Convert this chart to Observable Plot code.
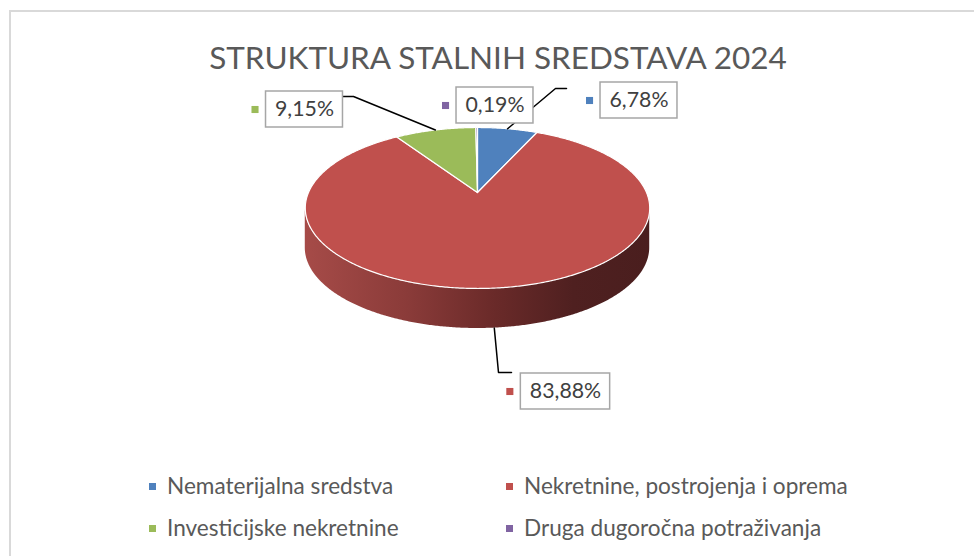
<!DOCTYPE html>
<html>
<head>
<meta charset="utf-8">
<script src="https://cdn.jsdelivr.net/npm/d3@7"></script>
<script src="https://cdn.jsdelivr.net/npm/@observablehq/plot@0.6"></script>
<style>
  html, body { margin: 0; padding: 0; background: #fff; }
  #wrap { position: relative; width: 974px; height: 556px; overflow: hidden; background: #fff; }
  #frame { position: absolute; left: 9px; top: 10px; width: 1000px; height: 600px; border: 2px solid #d9d9d9; box-sizing: border-box; }
  #title { position: absolute; left: 0; width: 996px; text-align: center; color: #595959; line-height: 1; white-space: nowrap; }
  #plot { position: absolute; left: 0; top: 80px; }
  .leg { position: absolute; color: #595959; line-height: 1; white-space: nowrap; }
  .key { position: absolute; width: 7px; height: 7px; }
</style>
</head>
<body>
<div id="wrap">
  <div id="frame"></div>
  <div id="title"></div>
  <div id="plot"></div>
</div>
<script>
// ---------- data ----------
const title = "STRUKTURA STALNIH SREDSTAVA 2024";
const categories = ["Nematerijalna sredstva", "Nekretnine, postrojenja i oprema", "Investicijske nekretnine", "Druga dugoročna potraživanja"];
const shares = [6.78, 83.88, 9.15, 0.19];
const valueLabels = ["6,78%", "83,88%", "9,15%", "0,19%"];

// ---------- styles / layout ----------
const colors = ["#4F81BD", "#C0504D", "#9BBB59", "#8064A2"];
const FONT = "Lato, 'Open Sans', sans-serif";
const W = 974, H = 360, TOP = 80;
const cx = 477, cy = 192, rx = 169, ry = 77.5, persp = 0.1925, depth = 40;
// label boxes (centre) and leader-line bends, page coordinates
const labelLayout = [
  {bx: 638.5, by: 100, leader: [[555, 88], [566, 88]]},
  {bx: 565, by: 391, leader: [[498, 372], [511, 372]], bottom: true},
  {bx: 304, by: 109, leader: [[353, 96], [342, 96]]},
  {bx: 494.5, by: 105, leader: null}
];
const legendLayout = [
  {x: 152, y: 486}, {x: 509, y: 486}, {x: 152, y: 528}, {x: 509, y: 528}
];

// ---------- helpers ----------
const ctx = document.createElement("canvas").getContext("2d");
function fit(text, target, weight = "normal") {
  ctx.font = `${weight} 100px ${FONT}`;
  return 100 * target / ctx.measureText(text).width;
}
function textW(text, size) {
  ctx.font = `normal ${size}px ${FONT}`;
  return ctx.measureText(text).width;
}
function proj(t) {
  const u = Math.sin(t), v = -Math.cos(t), s = 1 / (1 - persp * v);
  return [cx + rx * u * s, cy + ry * v * s];
}

// ---------- title ----------
const titleEl = document.getElementById("title");
const tSize = fit(title, 580);
titleEl.textContent = title;
titleEl.style.fontFamily = FONT;
titleEl.style.fontSize = tSize + "px";
titleEl.style.top = (70 - 0.887 * tSize) + "px";

// ---------- pie geometry from data ----------
const pie = d3.pie().sort(null).value(d => d)(shares);
const slices = pie.map((p, i) => ({cat: categories[i], a0: p.startAngle, a1: p.endAngle, mid: (p.startAngle + p.endAngle) / 2, label: valueLabels[i], i}));

const slicePts = slices.flatMap(s => {
  const n = Math.max(2, Math.ceil((s.a1 - s.a0) / (Math.PI / 360)));
  const pts = [{cat: s.cat, x: cx, y: cy}];
  for (let j = 0; j <= n; j++) {
    const [x, y] = proj(s.a0 + (s.a1 - s.a0) * j / n);
    pts.push({cat: s.cat, x, y});
  }
  pts.push({cat: s.cat, x: cx, y: cy});
  return pts;
});

// front side of the red slice (the visible wall)
const tR = Math.acos(-persp), tL = 2 * Math.PI - tR;
const sidePts = d3.range(0, 361).map(j => {
  const [x, y] = proj(tR + (tL - tR) * j / 360);
  return {x, y1: y, y2: y + depth};
});

// labels
const lblSize = fit("9,15%", 59);
const labelData = slices.map((s, i) => {
  const L = labelLayout[i];
  const w = textW(s.label, lblSize) + 18, h = 36;
  return {cat: s.cat, label: s.label, bx: L.bx, by: L.by, x1: L.bx - w / 2, x2: L.bx + w / 2, y1: L.by - h / 2, y2: L.by + h / 2, kx: L.bx - w / 2 - 11, ky: L.by};
});
const leaderPts = slices.flatMap((s, i) => {
  const L = labelLayout[i];
  if (!L.leader) return [];
  let [x, y] = proj(s.mid);
  if (L.bottom) y += depth;
  return [{cat: s.cat, x, y}, ...L.leader.map(([lx, ly]) => ({cat: s.cat, x: lx, y: ly}))];
});

const chart = Plot.plot({
  width: W, height: H,
  margin: 0,
  x: {domain: [0, W], range: [0, W], axis: null},
  y: {domain: [TOP, TOP + H], range: [0, H], axis: null},
  color: {domain: categories, range: colors},
  style: {background: "transparent", overflow: "visible"},
  marks: [
    Plot.areaY(sidePts, {x: "x", y1: "y1", y2: "y2", fill: "url(#sideGrad)", curve: "linear"}),
    Plot.line(slicePts, {x: "x", y: "y", z: "cat", fill: "cat", stroke: "#ffffff", strokeWidth: 1.2, strokeLinejoin: "round", curve: "linear"}),
    Plot.line(leaderPts, {x: "x", y: "y", z: "cat", stroke: "#000000", strokeWidth: 1.5, curve: "linear"}),
    Plot.dot(labelData, {x: "kx", y: "ky", fill: "cat", symbol: "square", r: 4, stroke: null}),
    Plot.rect(labelData, {x1: "x1", x2: "x2", y1: "y1", y2: "y2", fill: "#ffffff", stroke: "#a6a6a6", strokeWidth: 1.5}),
    Plot.text(labelData, {x: "bx", y: "by", text: "label", fill: "#404040", fontSize: lblSize, fontFamily: FONT, textAnchor: "middle", lineAnchor: "middle"})
  ]
});

// gradient for the pie wall
const ns = "http://www.w3.org/2000/svg";
const defs = document.createElementNS(ns, "defs");
defs.innerHTML = `<linearGradient id="sideGrad" x1="0" x2="1" y1="0" y2="0">
  <stop offset="0" stop-color="#a64b48"/>
  <stop offset="0.3" stop-color="#8a3b39"/>
  <stop offset="0.55" stop-color="#6a2a29"/>
  <stop offset="0.78" stop-color="#4f2020"/>
  <stop offset="1" stop-color="#4a1e1e"/>
</linearGradient>`;
chart.insertBefore(defs, chart.firstChild);
document.getElementById("plot").appendChild(chart);

// ---------- legend ----------
const wrap = document.getElementById("wrap");
const legSize = fit(categories[1], 324);
categories.forEach((c, i) => {
  const L = legendLayout[i];
  const key = document.createElement("div");
  key.className = "key";
  key.style.background = colors[i];
  key.style.left = (L.x - 3.5) + "px";
  key.style.top = (L.y - 3.5) + "px";
  wrap.appendChild(key);
  const t = document.createElement("div");
  t.className = "leg";
  t.textContent = c;
  t.style.fontFamily = FONT;
  t.style.fontSize = legSize + "px";
  t.style.left = (L.x + 15) + "px";
  t.style.top = (L.y - legSize / 2) + "px";
  wrap.appendChild(t);
});
</script>
</body>
</html>
